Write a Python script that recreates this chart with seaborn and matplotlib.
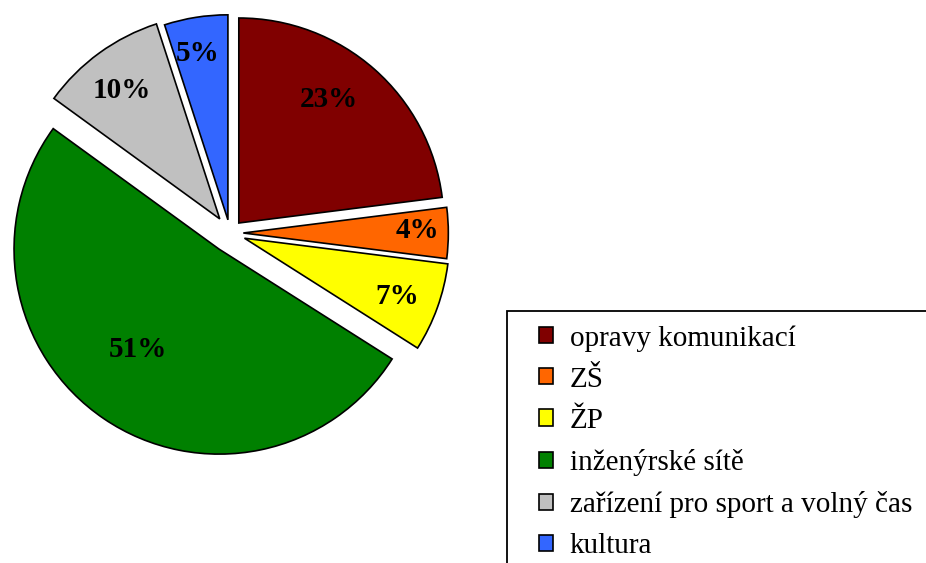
import matplotlib
matplotlib.use("Agg")
import matplotlib.pyplot as plt
import numpy as np
import seaborn as sns
from matplotlib.patches import Patch, Rectangle

categories = ["opravy komunikací", "ZŠ", "ŽP", "inženýrské sítě",
              "zařízení pro sport a volný čas", "kultura"]
shares = [23, 4, 7, 51, 10, 5]
colors = ["#800000", "#FF6600", "#FFFF00", "#008000", "#C0C0C0", "#3366FF"]

# per-slice styling: offset from centre, label radius and label angular nudge (deg)
explode = [0.065, 0.065, 0.075, 0.095, 0.085, 0.065]
label_dist = [0.76, 0.85, 0.79, 0.62, 0.80, 0.84]
label_shift = [6.0, 1.8, 0.0, -5.7, 0.7, 1.0]

sns.set_theme(style="white")
plt.rcParams["font.family"] = ["Liberation Serif", "DejaVu Serif"]

W, H = 926, 563
fig = plt.figure(figsize=(W / 100, H / 100), dpi=100)

# pie centre and radius in pixels
cx, cy, R = 230, 233, 205
half = 1.15
size = 2 * half * R
ax = fig.add_axes([(cx - size / 2) / W, (H - cy - size / 2) / H, size / W, size / H])

wedges, _ = ax.pie(shares, colors=colors, explode=explode, startangle=90,
                   counterclock=False, radius=1.0,
                   wedgeprops=dict(edgecolor="black", linewidth=1.2))
for w, s, d, sh in zip(wedges, shares, label_dist, label_shift):
    ang = np.deg2rad((w.theta1 + w.theta2) / 2 + sh)
    x0, y0 = w.center
    ax.text(x0 + d * np.cos(ang), y0 + d * np.sin(ang), f"{s}%",
            ha="center", va="center_baseline", fontsize=21, fontweight="bold",
            color="black")
ax.set_xlim(-half, half)
ax.set_ylim(-half, half)
ax.set_aspect("equal")
ax.axis("off")

# legend box, running off the right and bottom edges
fig.patches.append(Rectangle((507 / W, -0.2), 1.0, 1.2 - 311 / H,
                             transform=fig.transFigure, facecolor="white",
                             edgecolor="black", linewidth=1.3, zorder=0))

handles = [Patch(facecolor=c, edgecolor="black", linewidth=1.2) for c in colors]
leg = fig.legend(handles, categories, loc="upper left",
                 bbox_to_anchor=(539 / W, 1 - 325 / H), bbox_transform=fig.transFigure,
                 fontsize=21, frameon=False, borderaxespad=0, borderpad=0,
                 handlelength=0.48, handleheight=0.48, handletextpad=0.58,
                 labelspacing=0.52, labelcolor="black")

fig.savefig("out.png", dpi=100, facecolor="white")
